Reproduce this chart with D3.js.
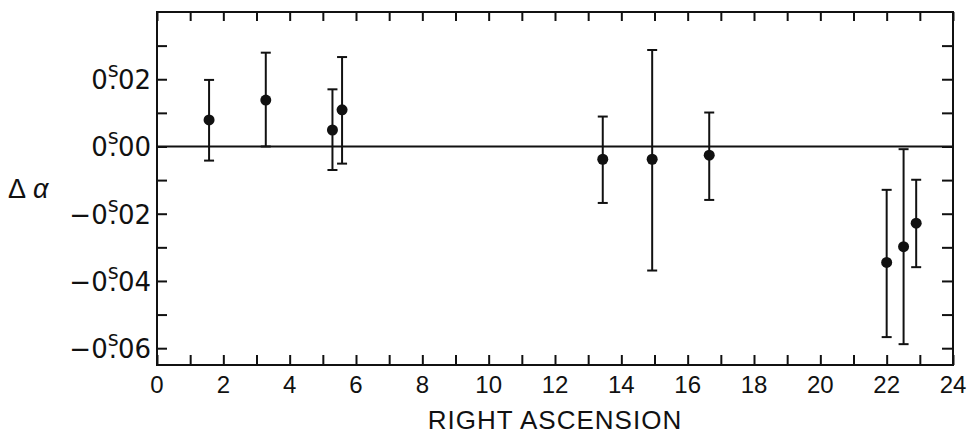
<!DOCTYPE html>
<html>
<head>
<meta charset="utf-8">
<script src="https://cdn.jsdelivr.net/npm/d3@7"></script>
<style>
  body { margin: 0; background: #fff; }
  svg { display: block; }
  text { font-family: "Liberation Sans", Arial, sans-serif; fill: #111; }
</style>
</head>
<body>
<div id="chart"></div>
<script>
// right ascension (hours) and delta alpha (seconds)
var ra       = [1.57, 3.28, 5.29, 5.58, 13.44, 14.93, 16.65, 22.00, 22.51, 22.89];
var dAlpha   = [0.0079, 0.0138, 0.0049, 0.0109, -0.0038, -0.0038, -0.0026, -0.0345, -0.0298, -0.0228];
var errTop   = [0.0198, 0.0279, 0.0170, 0.0266, 0.0089, 0.0287, 0.0101, -0.0129, -0.0008, -0.0099];
var errBot   = [-0.0042, 0.0000, -0.0070, -0.0051, -0.0168, -0.0369, -0.0159, -0.0567, -0.0588, -0.0359];
var xLabels  = [0, 2, 4, 6, 8, 10, 12, 14, 16, 18, 20, 22, 24];
var yLabels  = [0.02, 0.00, -0.02, -0.04, -0.06];
var yMinor   = [0.03, 0.02, 0.01, 0.00, -0.01, -0.02, -0.03, -0.04, -0.05, -0.06];

var width = 972, height = 436;
// plot frame edges (note: "top" is taken by window.top)
var frameL = 157, frameR = 953, frameT = 12, frameB = 365;

var svg = d3.select("#chart").append("svg")
  .attr("width", width)
  .attr("height", height);

var x = d3.scaleLinear().domain([0, 24]).range([frameL, frameR]);
var y = d3.scaleLinear().domain([-0.065, 0.04]).range([frameB, frameT]);

// inward ticks on all four sides
var tickLen = 10;
var hourTicks = d3.range(0, 25);
function styleAxis(g) {
  g.select(".domain").remove();
  g.selectAll("line").attr("stroke", "#111").attr("stroke-width", 2);
  g.selectAll("text").remove();
}
svg.append("g").attr("transform", "translate(0," + frameB + ")")
  .call(d3.axisBottom(x).tickValues(hourTicks).tickSize(-tickLen)).call(styleAxis);
svg.append("g").attr("transform", "translate(0," + frameT + ")")
  .call(d3.axisTop(x).tickValues(hourTicks).tickSize(-tickLen + 1)).call(styleAxis);
svg.append("g").attr("transform", "translate(" + frameL + ",0)")
  .call(d3.axisLeft(y).tickValues(yMinor).tickSize(-tickLen)).call(styleAxis);
svg.append("g").attr("transform", "translate(" + frameR + ",0)")
  .call(d3.axisRight(y).tickValues(yMinor).tickSize(-tickLen - 1)).call(styleAxis);

// frame
svg.append("rect")
  .attr("x", frameL).attr("y", frameT)
  .attr("width", frameR - frameL).attr("height", frameB - frameT)
  .attr("fill", "none").attr("stroke", "#111").attr("stroke-width", 2);

// zero line
svg.append("line")
  .attr("x1", frameL).attr("x2", frameR)
  .attr("y1", y(0)).attr("y2", y(0))
  .attr("stroke", "#111").attr("stroke-width", 2);

// x tick labels
svg.append("g").selectAll("text")
  .data(xLabels).join("text")
  .attr("x", function(d) { return x(d); })
  .attr("y", frameB + 28)
  .attr("text-anchor", "middle")
  .style("font-size", "24px")
  .text(function(d) { return d; });

// y tick labels, like 0ˢ.02 with the s sitting over the point
var ylab = svg.append("g").selectAll("text")
  .data(yLabels).join("text")
  .attr("x", frameL - 6)
  .attr("y", function(d) { return y(d) + 10; })
  .attr("text-anchor", "end")
  .style("font-family", "'DejaVu Sans', sans-serif")
  .style("font-size", "26px");
ylab.append("tspan").text(function(d) { return d < 0 ? "\u22120" : "0"; });
ylab.append("tspan").attr("dy", -12).style("font-size", "21px").text("s");
ylab.append("tspan").attr("dy", 12).attr("dx", -10).text(".");
ylab.append("tspan").attr("dx", 1)
  .text(function(d) { return d3.format("02d")(Math.round(Math.abs(d) * 100)); });

// axis titles
var ylTitle = svg.append("text")
  .attr("x", 8).attr("y", 198)
  .style("font-size", "27px");
ylTitle.append("tspan").text("\u0394");
ylTitle.append("tspan").attr("dx", 7).style("font-style", "italic").text("\u03b1");

svg.append("text")
  .attr("x", x(12)).attr("y", 429)
  .attr("text-anchor", "middle")
  .style("font-size", "26px")
  .style("letter-spacing", "1px")
  .text("RIGHT ASCENSION");

// error bars and points
var idx = d3.range(ra.length);
var cap = 5;
var bars = svg.append("g").attr("stroke", "#111").attr("stroke-width", 2);
bars.selectAll(".stem").data(idx).join("line")
  .attr("class", "stem")
  .attr("x1", function(i) { return x(ra[i]); })
  .attr("x2", function(i) { return x(ra[i]); })
  .attr("y1", function(i) { return y(errTop[i]); })
  .attr("y2", function(i) { return y(errBot[i]); });
bars.selectAll(".capTop").data(idx).join("line")
  .attr("class", "capTop")
  .attr("x1", function(i) { return x(ra[i]) - cap; })
  .attr("x2", function(i) { return x(ra[i]) + cap; })
  .attr("y1", function(i) { return y(errTop[i]); })
  .attr("y2", function(i) { return y(errTop[i]); });
bars.selectAll(".capBot").data(idx).join("line")
  .attr("class", "capBot")
  .attr("x1", function(i) { return x(ra[i]) - cap; })
  .attr("x2", function(i) { return x(ra[i]) + cap; })
  .attr("y1", function(i) { return y(errBot[i]); })
  .attr("y2", function(i) { return y(errBot[i]); });

svg.append("g").selectAll("circle")
  .data(idx).join("circle")
  .attr("cx", function(i) { return x(ra[i]); })
  .attr("cy", function(i) { return y(dAlpha[i]); })
  .attr("r", 5.5)
  .attr("fill", "#111");
</script>
</body>
</html>
